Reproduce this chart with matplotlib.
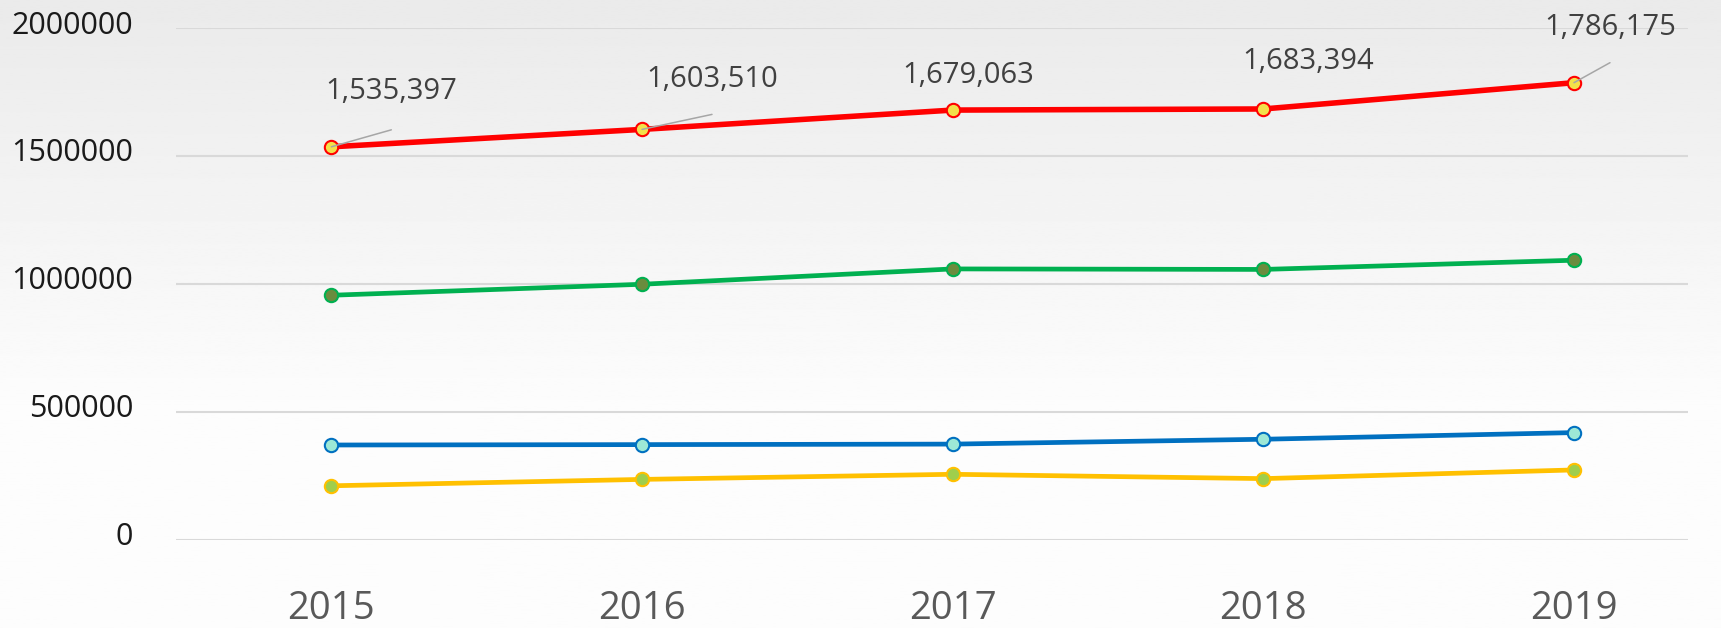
import numpy as np
import matplotlib
matplotlib.use("Agg")
import matplotlib.pyplot as plt
from matplotlib.transforms import ScaledTranslation

# ---- data ----
years = [2015, 2016, 2017, 2018, 2019]
red_vals = [1535397, 1603510, 1679063, 1683394, 1786175]
green_vals = [955000, 998000, 1058000, 1056000, 1092000]
blue_vals = [369500, 371000, 373000, 392000, 418000]
yellow_vals = [210000, 235000, 255000, 238000, 272000]
ytick_vals = [0, 500000, 1000000, 1500000, 2000000]
ytick_labels = ["0", "500000", "1000000", "1500000", "2000000"]

FONT = ["Open Sans", "DejaVu Sans"]
plt.rcParams['font.family'] = FONT

W, H = 1721, 628
fig = plt.figure(figsize=(W / 100, H / 100), dpi=100)

# background gradient
bg = fig.add_axes([0, 0, 1, 1], zorder=-10)
t = np.linspace(0, 1, 400)
vals = np.clip(0.918 + (0.99 - 0.918) * (t / 0.65), 0, 0.99)
vals[t > 0.65] = 0.99
grad = np.repeat(vals[:, None], 2, axis=1)
bg.imshow(grad, cmap='gray', vmin=0, vmax=1, aspect='auto', extent=[0, 1, 0, 1])
bg.axis('off')

left_px, right_px = 176, 1688
top_px, bot_px = 28, 539.5
ax = fig.add_axes([left_px / W, 1 - bot_px / H, (right_px - left_px) / W, (bot_px - top_px) / H])
ax.patch.set_alpha(0)

ax.set_ylim(0, 2000000)
ax.set_xlim(2014.5, 2019.367)

ax.set_yticks(ytick_vals)
ax.set_yticklabels(ytick_labels)
ax.set_xticks(years)
ax.set_xticklabels([str(y) for y in years])

ax.grid(axis='y', color='#d9d9d9', lw=1.5)
ax.set_axisbelow(True)
for s in ax.spines.values():
    s.set_visible(False)
ax.tick_params(axis='both', length=0)
ax.tick_params(axis='y', pad=31, labelsize=22, labelcolor='#1a1a1a')
ax.tick_params(axis='x', pad=50, labelsize=27.5, labelcolor='#595959')
off = ScaledTranslation(0, 6 / 100, fig.dpi_scale_trans)
for lab in ax.get_yticklabels():
    lab.set_transform(lab.get_transform() + off)
for lab in ax.get_xticklabels():
    lab.set_va('center')

def series(vals, color, face, lw):
    ax.plot(years, vals, color=color, lw=lw, marker='o', markersize=9.6,
            markerfacecolor=face, markeredgecolor=color, markeredgewidth=1.5,
            solid_capstyle='round', zorder=3)

series(yellow_vals, '#ffc000', '#9fce4c', 3.4)
series(blue_vals, '#0070c0', '#9de8d6', 3.4)
series(green_vals, '#00b050', '#6a8c3e', 3.4)
series(red_vals, '#ff0000', '#f3e04a', 4.0)

# data labels (offsets in pixels): label center, leader end (or None)
label_offsets = [((60, 55), (60, 17)),
                 ((70, 50), (70, 15)),
                 ((16, 35), None),
                 ((45, 47), None),
                 ((36, 55), (36, 20))]
for x, v, (lo, le) in zip(years, red_vals, label_offsets):
    if le is not None:
        ax.annotate('', xy=(x, v), xytext=le, textcoords='offset pixels',
                    arrowprops=dict(arrowstyle='-', color='#a6a6a6', lw=1.1,
                                    shrinkA=0, shrinkB=0), zorder=4)
    ax.annotate(f"{v:,}", xy=(x, v), xytext=lo, textcoords='offset pixels',
                ha='center', va='center', fontsize=21, color='#404040',
                annotation_clip=False, zorder=5)

fig.savefig('out.png', dpi=100)
